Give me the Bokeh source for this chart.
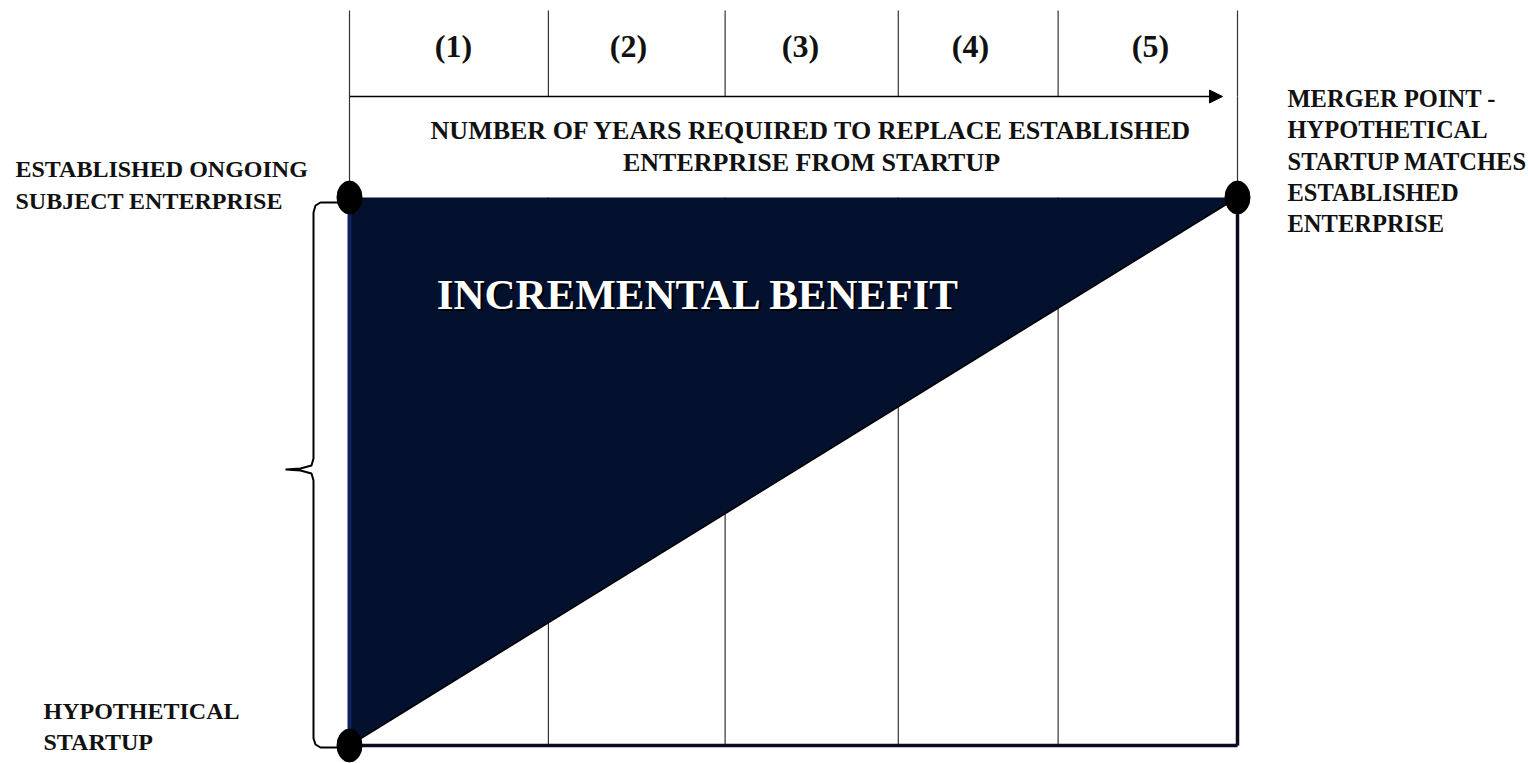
from bokeh.plotting import figure
from bokeh.models import Range1d, Arrow, NormalHead
from bokeh.core.properties import value
from bokeh.embed import file_html
from bokeh.resources import INLINE

# ---------------- data ----------------
period_labels = ["(1)", "(2)", "(3)", "(4)", "(5)"]
period_edges = [0.0, 1.12, 2.115, 3.09, 3.99, 5.0]      # years
timeline_years = [0.0, 5.0]
established_value = [100.0, 100.0]   # established ongoing enterprise (indexed)
startup_value = [0.0, 100.0]         # hypothetical startup (indexed)
point_years = [0.0, 0.0, 5.0]
point_values = [100.0, 0.0, 100.0]

header_title = ["NUMBER OF YEARS REQUIRED TO REPLACE ESTABLISHED",
                "ENTERPRISE FROM STARTUP"]
left_top_label = ["ESTABLISHED ONGOING", "SUBJECT ENTERPRISE"]
left_bottom_label = ["HYPOTHETICAL", "STARTUP"]
right_label = ["MERGER POINT -", "HYPOTHETICAL", "STARTUP MATCHES",
               "ESTABLISHED", "ENTERPRISE"]
area_label = "INCREMENTAL BENEFIT"

# ---------------- layout helpers (pixel <-> data) ----------------
W, H = 1528, 763
OX, OY = 0, 0
X0_PX, X5_PX = 349, 1237
Y0_PX, Y100_PX = 745, 197
SX = (X5_PX - X0_PX) / 5.0
SY = (Y0_PX - Y100_PX) / 100.0


def dx(px):
    return (px - X0_PX) / SX


def dy(py):
    return (Y0_PX - py) / SY


FONT = value("Liberation Serif")
INK = "#111111"
NAVY = "#03102e"

p = figure(width=W, height=H,
           x_range=Range1d(dx(OX), dx(OX + W)),
           y_range=Range1d(dy(OY + H), dy(OY)),
           x_axis_type=None, y_axis_type=None,
           output_backend="svg", toolbar_location=None, min_border=0)
p.grid.visible = False
p.outline_line_color = None
p.background_fill_color = "white"

top_px = 10
# vertical dividers (full height, behind triangle)
inner = period_edges[1:-1]
p.segment(x0=inner, y0=[0] * len(inner), x1=inner, y1=[100] * len(inner),
          line_color="#333333", line_width=1.2)
# header dividers
p.segment(x0=period_edges, y0=[dy(96)] * len(period_edges),
          x1=period_edges, y1=[dy(top_px)] * len(period_edges),
          line_color="#333333", line_width=1.2)
# left line up to the top
p.segment(x0=[period_edges[0]], y0=[established_value[0]], x1=[period_edges[0]],
          y1=[dy(96)], line_color="#333333", line_width=1.2)
# right boundary
p.segment(x0=[period_edges[-1]], y0=[startup_value[0]], x1=[period_edges[-1]],
          y1=[dy(96)], line_color="#333333", line_width=1.2)

# incremental benefit area
p.varea(x=timeline_years, y1=startup_value, y2=established_value,
        fill_color=NAVY)
p.line(x=[timeline_years[0], timeline_years[0]],
       y=[startup_value[0], established_value[0]],
       line_color="#0e2260", line_width=4)
p.line(x=timeline_years, y=startup_value, line_color="black", line_width=1.5)

# bottom and right thick edges
p.line(x=timeline_years, y=[startup_value[0]] * 2, line_color="#0b0b20",
       line_width=3.5)
p.line(x=[timeline_years[-1]] * 2, y=[startup_value[0], established_value[-1]],
       line_color="#0b0b20", line_width=3.5)

# arrow
p.add_layout(Arrow(x_start=period_edges[0], y_start=dy(96),
                   x_end=dx(1222), y_end=dy(96),
                   line_color="black", line_width=1.3,
                   end=NormalHead(size=13, fill_color="black",
                                  line_color="black")))

# brace
brace_px = [(343, 202), (320, 202), (315, 205), (313, 212), (313, 458),
            (311, 465), (300, 468), (285, 469), (300, 470), (311, 473),
            (313, 480), (313, 738), (315, 744), (320, 747), (345, 747)]
p.line(x=[dx(a) for a, b in brace_px], y=[dy(b) for a, b in brace_px],
       line_color="black", line_width=2)

# dots
p.ellipse(x=point_years, y=point_values, width=25, height=33,
          width_units="screen", height_units="screen",
          fill_color="black", line_color="black")

# period labels (placed in the header cells)
label_px = [453, 628, 800, 970, 1150]
p.text(x=[dx(v) for v in label_px], y=[dy(45)] * len(label_px),
       text=period_labels,
       text_font=FONT, text_font_style="bold", text_font_size="32px",
       text_align="center", text_baseline="middle", text_color=INK)

# header title
p.text(x=[dx(811)] * 2, y=[dy(130), dy(162)], text=header_title,
       text_font=FONT, text_font_style="bold", text_font_size="26px",
       text_align="center", text_baseline="middle", text_color=INK)

# left labels
p.text(x=[dx(15)] * 2, y=[dy(168), dy(200)], text=left_top_label,
       text_font=FONT, text_font_style="bold", text_font_size="24px",
       text_align="left", text_baseline="middle", text_color=INK)
p.text(x=[dx(43)] * 2, y=[dy(710), dy(741)], text=left_bottom_label,
       text_font=FONT, text_font_style="bold", text_font_size="24px",
       text_align="left", text_baseline="middle", text_color=INK)

# right labels
p.text(x=[dx(1287)] * 5, y=[dy(98 + 31.3 * i) for i in range(5)], text=right_label,
       text_font=FONT, text_font_style="bold", text_font_size="24.5px",
       text_align="left", text_baseline="middle", text_color=INK)

# area label with shadow
p.text(x=[dx(698)], y=[dy(294)], text=[area_label], x_offset=2, y_offset=2,
       text_font=FONT, text_font_style="bold", text_font_size="43px",
       text_align="center", text_baseline="middle", text_color="#000000")
p.text(x=[dx(698)], y=[dy(294)], text=[area_label],
       text_font=FONT, text_font_style="bold", text_font_size="43px",
       text_align="center", text_baseline="middle", text_color="white")

open("out.html", "w").write(file_html(p, INLINE))
